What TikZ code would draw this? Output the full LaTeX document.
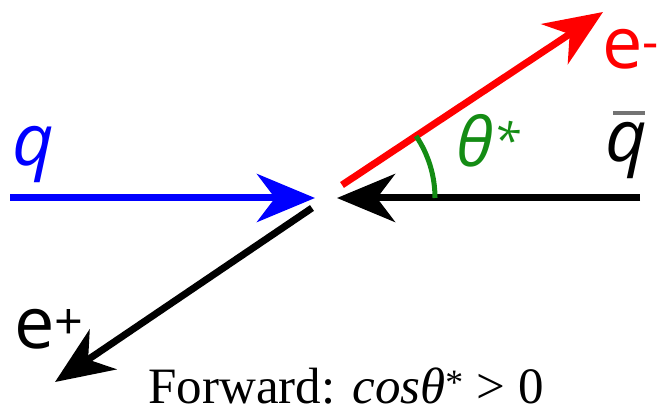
\documentclass[tikz,border=0pt]{standalone}
\usepackage{fontspec}
\setmainfont{Liberation Serif}
\newfontfamily\labfont{Open Sans}
\usetikzlibrary{arrows.meta}
\definecolor{qblue}{RGB}{0,0,255}
\definecolor{ered}{RGB}{255,0,0}
\definecolor{agreen}{RGB}{20,140,20}
\begin{document}
\begin{tikzpicture}[x=1pt,y=-1pt,
  vec/.style={line width=7pt,-{Stealth[length=58pt,width=48pt,inset=18pt]}},
  lab/.style={inner sep=0pt,anchor=base west,font=\labfont\fontsize{72}{84}\selectfont}]
\useasboundingbox (0,0) rectangle (664,419);
% points
\coordinate (qstart) at (10,198);
\coordinate (qtip) at (315,198);
\coordinate (qbstart) at (640,198);
\coordinate (qbtip) at (337,198);
\coordinate (emstart) at (342,185);
\coordinate (emtip) at (603,12);
\coordinate (epstart) at (312,208);
\coordinate (eptip) at (55,382);
\coordinate (arcstart) at (435,198);
% vectors
\draw[vec,qblue] (qstart) -- (qtip);
\draw[vec,black] (qbstart) -- (qbtip);
\draw[vec,ered] (emstart) -- (emtip);
\draw[vec,black] (epstart) -- (eptip);
% angle
\draw[agreen,line width=5pt] (arcstart) arc[start angle=0,end angle=-34,radius=111];
% labels
\node[lab,text=qblue] (qlab) at (12,166) {\itshape q};
\node[lab,text=black] (qblab) at (605,162) {\itshape q};
\draw[line width=4pt,black!55] (613,113) -- (645,113);
\node[lab,text=ered] (emlab) at (602,69) {e\textsuperscript{-}};
\node[lab,text=black] (eplab) at (14,349) {e\textsuperscript{+}};
\node[lab,text=agreen,font=\labfont\fontsize{68}{80}\selectfont] (thlab) at (456,167) {\itshape θ\textsuperscript{*}};
\node[inner sep=0pt,anchor=base,font=\fontsize{51}{60}\selectfont] (cap) at (346,404) {Forward: \textit{cosθ}\textsuperscript{*} \textgreater{} 0};
\end{tikzpicture}
\end{document}
